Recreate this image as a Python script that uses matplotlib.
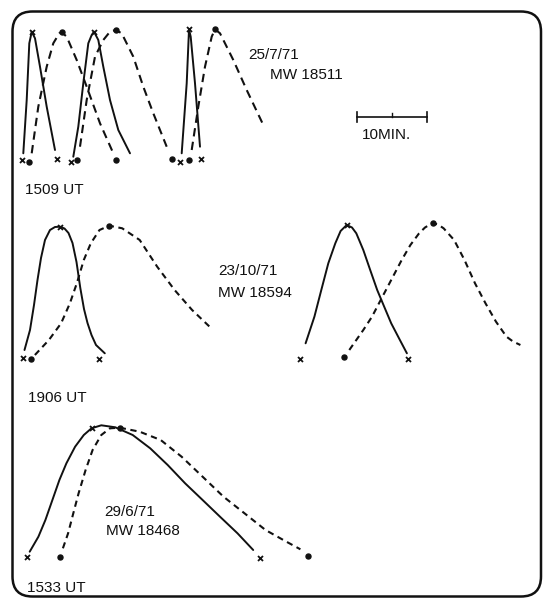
"""Hand-drawn pulse profiles for three events, redrawn on a pixel-like grid."""

import matplotlib.pyplot as plt
from matplotlib.patches import FancyBboxPatch

plt.rcParams["font.family"] = ["Liberation Sans", "DejaVu Sans"]

# ---- 25/7/71, 1509 UT: three pulse pairs ----
P1A_X = [23.3, 26.7, 29.3, 30.7, 31.7, 35.0, 40.0, 46.7, 55.0]
P1A_Y = [153.3, 100.0, 43.3, 36.7, 31.7, 38.3, 66.7, 106.7, 150.0]
P1B_X = [31.7, 38.3, 46.7, 53.3, 59.3, 61.7, 66.7, 76.7, 86.7, 100.0, 113.3]
P1B_Y = [153.3, 106.7, 66.7, 43.3, 33.3, 32.3, 36.7, 60.0, 86.7, 123.3, 153.3]
P1C_X = [73.3, 78.3, 83.3, 88.3, 91.7, 94.0, 98.3, 103.3, 110.0, 118.3, 130.0]
P1C_Y = [156.7, 126.7, 83.3, 43.3, 35.0, 31.7, 40.0, 66.7, 100.0, 130.0, 153.3]
P1D_X = [80.0, 86.7, 95.0, 103.3, 110.0, 115.7, 121.7, 133.3, 143.3, 153.3, 166.7]
P1D_Y = [146.7, 100.0, 56.7, 40.0, 31.7, 30.0, 33.3, 56.7, 86.7, 113.3, 146.7]
P1E_X = [181.7, 186.7, 188.7, 189.0, 190.7, 195.0, 200.0]
P1E_Y = [153.3, 83.3, 36.7, 29.3, 36.7, 83.3, 146.7]
P1F_X = [191.7, 198.3, 205.0, 211.7, 215.0, 220.0, 233.3, 246.7, 263.3]
P1F_Y = [150.0, 106.7, 66.7, 36.7, 29.3, 33.3, 60.0, 90.0, 125.0]
P1_CROSS_X = [21.7, 31.7, 56.7, 70.7, 94.0, 180.0, 189.0, 201.0]
P1_CROSS_Y = [160.0, 31.7, 159.3, 161.7, 31.7, 161.7, 29.3, 159.3]
P1_DOT_X = [29.3, 61.7, 115.7, 76.7, 115.7, 172.3, 189.0, 215.0]
P1_DOT_Y = [161.7, 32.3, 160.0, 160.0, 30.0, 159.3, 160.0, 29.3]

# ---- 23/10/71, 1906 UT: two pulse pairs ----
P2A_X = [24.5, 30.0, 34.0, 37.5, 41.0, 45.0, 50.0, 55.0, 60.1, 64.5, 68.5, 72.5, 76.5, 80.3,
         84.0, 87.5, 91.5, 96.0, 104.8]
P2A_Y = [350.0, 330.0, 305.0, 280.0, 258.0, 240.0, 230.0, 227.0, 226.7, 228.5, 233.0, 243.0,
         262.0, 288.0, 309.0, 323.0, 335.0, 345.0, 353.3]
P2B_X = [34.9, 48.9, 61.1, 69.9, 76.8, 83.8, 90.8, 99.5, 109.3, 122.2, 139.7, 157.2, 174.6,
         192.1, 209.6]
P2B_Y = [355.0, 340.0, 323.3, 303.3, 283.3, 260.0, 243.3, 230.0, 225.7, 228.3, 240.0, 266.7,
         290.0, 310.0, 326.7]
P2C_X = [305.6, 310.0, 314.4, 321.3, 328.3, 335.3, 340.6, 346.7, 352.0, 356.3, 363.3, 370.2,
         377.2, 384.2, 391.2, 399.9, 406.9]
P2C_Y = [343.3, 330.0, 316.7, 290.0, 263.3, 243.3, 231.0, 225.0, 227.5, 233.3, 250.0, 270.0,
         290.0, 306.7, 323.3, 340.0, 353.3]
P2D_X = [349.3, 356.3, 363.3, 372.0, 380.7, 391.2, 401.7, 410.4, 419.1, 425.0, 432.5, 438.0,
         443.6, 454.1, 464.5, 475.0, 485.5, 496.0, 506.5, 513.0, 520.4]
P2D_Y = [350.0, 340.0, 330.0, 316.7, 300.0, 280.0, 260.0, 245.0, 233.3, 227.5, 223.0, 224.5,
         228.3, 240.0, 260.0, 283.3, 303.3, 321.7, 336.7, 341.5, 345.0]
P2_CROSS_X = [22.7, 60.1, 99.0, 300.0, 346.7, 408.3]
P2_CROSS_Y = [358.3, 226.7, 359.3, 359.3, 225.0, 359.0]
P2_DOT_X = [30.7, 109.3, 344.0, 432.5]
P2_DOT_Y = [359.3, 225.7, 356.7, 223.0]

# ---- 29/6/71, 1533 UT: one pulse pair ----
P3A_X = [29.7, 38.4, 45.4, 52.4, 59.4, 66.4, 75.1, 83.8, 91.5, 101.3, 115.3, 132.7, 150.2,
         167.7, 185.1, 202.6, 220.0, 237.5, 253.2]
P3A_Y = [551.7, 536.7, 520.0, 500.0, 480.0, 463.3, 446.7, 435.0, 428.3, 425.3, 427.3, 435.0,
         448.3, 465.0, 483.3, 500.0, 516.7, 533.3, 550.0]
P3B_X = [62.9, 68.1, 73.3, 78.6, 85.6, 92.6, 101.3, 110.0, 119.8, 139.7, 160.7, 181.6, 202.6,
         223.5, 244.5, 265.5, 286.4, 300.4]
P3B_Y = [548.3, 533.3, 513.3, 493.3, 470.0, 450.0, 435.0, 428.3, 427.7, 431.7, 440.0, 456.7,
         476.7, 496.7, 513.3, 530.0, 541.7, 549.3]
P3_CROSS_X = [27.2, 91.5, 260.0]
P3_CROSS_Y = [556.7, 428.3, 558.3]
P3_DOT_X = [60.1, 119.8, 308.0]
P3_DOT_Y = [556.7, 427.7, 555.7]

LABELS = [
    (25, 190, "1509 UT"),
    (248, 55, "25/7/71"),
    (270, 75, "MW 18511"),
    (362, 135, "10MIN."),
    (28, 398, "1906 UT"),
    (218, 271, "23/10/71"),
    (218, 293, "MW 18594"),
    (104, 512, "29/6/71"),
    (106, 531, "MW 18468"),
    (27, 588, "1533 UT"),
]
SCALE_BAR_X = [356.7, 426.7]
SCALE_BAR_Y = 116.7

INK = "#111111"


def main() -> None:
    figure = plt.figure(figsize=(5.47, 5.99), dpi=100)
    axis = figure.add_axes([0, 0, 1, 1])
    axis.set_xlim(0, 547)
    axis.set_ylim(599, 0)
    axis.axis("off")

    border = FancyBboxPatch(
        (12.5, 11.5), 528.5, 585.0,
        boxstyle="round,pad=0,rounding_size=20",
        fill=False, edgecolor=INK, linewidth=1.8,
    )
    axis.add_patch(border)

    solid = dict(color=INK, linewidth=1.4, solid_capstyle="round", solid_joinstyle="round")
    for xs, ys in [(P1A_X, P1A_Y), (P1C_X, P1C_Y), (P1E_X, P1E_Y),
                   (P2A_X, P2A_Y), (P2C_X, P2C_Y), (P3A_X, P3A_Y)]:
        axis.plot(xs, ys, **solid)
    for xs, ys in [(P1B_X, P1B_Y), (P1D_X, P1D_Y), (P1F_X, P1F_Y)]:
        axis.plot(xs, ys, color=INK, linewidth=1.5, linestyle=(0, (4.0, 2.6)))
    for xs, ys in [(P2B_X, P2B_Y), (P2D_X, P2D_Y), (P3B_X, P3B_Y)]:
        axis.plot(xs, ys, color=INK, linewidth=1.5, linestyle=(0, (3.0, 2.2)))

    for xs, ys in [(P1_CROSS_X, P1_CROSS_Y), (P2_CROSS_X, P2_CROSS_Y), (P3_CROSS_X, P3_CROSS_Y)]:
        axis.plot(xs, ys, "x", color=INK, markersize=3.6, markeredgewidth=1.3)
    for xs, ys in [(P1_DOT_X, P1_DOT_Y), (P2_DOT_X, P2_DOT_Y), (P3_DOT_X, P3_DOT_Y)]:
        axis.plot(xs, ys, "o", color=INK, markersize=3.6)

    # 10 minute scale bar
    axis.plot(SCALE_BAR_X, [SCALE_BAR_Y] * 2, color=INK, linewidth=1.2)
    for x in SCALE_BAR_X:
        axis.plot([x, x], [SCALE_BAR_Y - 5, SCALE_BAR_Y + 5], color=INK, linewidth=1.2)
    middle = sum(SCALE_BAR_X) / 2
    axis.plot([middle, middle], [SCALE_BAR_Y - 4, SCALE_BAR_Y], color=INK, linewidth=1.0)

    for x, y, text in LABELS:
        axis.text(x, y, text, fontsize=11, color=INK, ha="left", va="center")

    figure.savefig("out.png", dpi=100)
    plt.close(figure)


if __name__ == "__main__":
    main()
